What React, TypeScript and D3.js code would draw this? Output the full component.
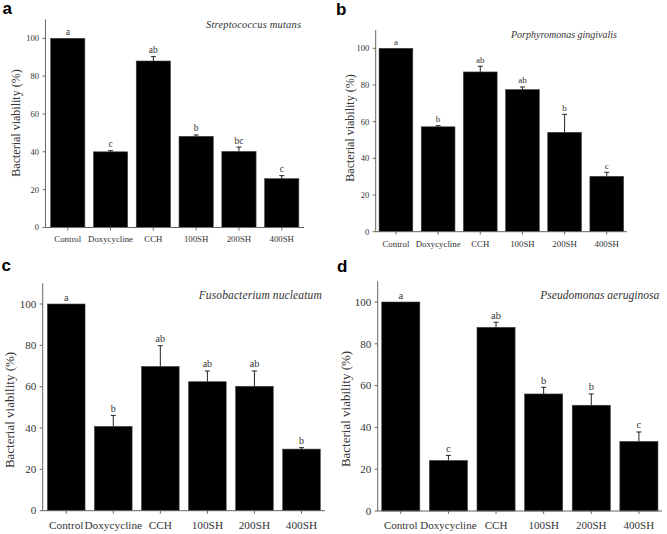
import React from "react";
import * as d3 from "d3";

const categories = ["Control", "Doxycycline", "CCH", "100SH", "200SH", "400SH"];
const yTicks = [0, 20, 40, 60, 80, 100];

const panelTags = ["a", "b", "c", "d"];
const speciesNames = [
  "Streptococcus mutans",
  "Porphyromonas gingivalis",
  "Fusobacterium nucleatum",
  "Pseudomonas aeruginosa",
];

const valuesA = [100, 40, 88, 48.2, 40.2, 25.8];
const errorsA = [0, 0.6, 2.3, 0.7, 2.3, 1.6];
const lettersA = ["a", "c", "ab", "b", "bc", "c"];

const valuesB = [100, 57.2, 87.1, 77.5, 54.2, 30.2];
const errorsB = [0, 0.6, 3.1, 1.4, 9.8, 2.2];
const lettersB = ["a", "b", "ab", "ab", "b", "c"];

const valuesC = [100, 40.8, 69.8, 62.4, 60.2, 29.8];
const errorsC = [0, 5.3, 10, 5.2, 7.4, 0.7];
const lettersC = ["a", "b", "ab", "ab", "ab", "b"];

const valuesD = [100, 24.2, 87.9, 56, 50.6, 33.3];
const errorsD = [0, 2.4, 2.4, 3.2, 5.4, 4.5];
const lettersD = ["a", "c", "ab", "b", "b", "c"];

const yLabel = "Bacterial viability (%)";

const layouts = [
  { left: 45.5, right: 304, po: 0.12, y0: 227.5, y100: 38.3, tickFs: 8.5, xFs: 8.8, yFs: 12, spFs: 10.5, spLen: 95, spX: 301, spY: 28, ltFs: 9.5, xLabY: 242, yLabX: 20, yLabY: 123, tagX: 2.5, tagY: 13.5 },
  { left: 375.7, right: 627, po: 0.08, y0: 231.7, y100: 48.3, tickFs: 8.5, xFs: 8.8, yFs: 12, spFs: 10, spLen: 106, spX: 617, spY: 37.5, ltFs: 9, xLabY: 246.5, yLabX: 353.5, yLabY: 128, tagX: 336, tagY: 15 },
  { left: 42.7, right: 325, po: 0.1, y0: 510.7, y100: 304, tickFs: 11, xFs: 11.3, yFs: 13, spFs: 11.5, spLen: 123, spX: 321.7, spY: 299, ltFs: 10, xLabY: 529, yLabX: 14, yLabY: 410, tagX: 1.5, tagY: 270.5 },
  { left: 377.7, right: 662, po: 0.085, y0: 511, y100: 302, tickFs: 11, xFs: 11, yFs: 13, spFs: 11.5, spLen: 119, spX: 659.3, spY: 299, ltFs: 10.5, xLabY: 529, yLabX: 350, yLabY: 409, tagX: 337, tagY: 272 },
];

const datasets = [
  { values: valuesA, errors: errorsA, letters: lettersA },
  { values: valuesB, errors: errorsB, letters: lettersB },
  { values: valuesC, errors: errorsC, letters: lettersC },
  { values: valuesD, errors: errorsD, letters: lettersD },
];

const SERIF = "'Liberation Serif', 'DejaVu Serif', serif";
const SANS = "'Liberation Sans', Arial, sans-serif";
const AXIS = "#666";
const TEXT = "#333";

function Panel({ idx }: { idx: number }) {
  const L = layouts[idx];
  const D = datasets[idx];
  const x = d3
    .scaleBand<string>()
    .domain(categories)
    .range([L.left, L.right])
    .paddingInner(0.2)
    .paddingOuter(L.po);
  const y = d3.scaleLinear().domain([0, 100]).range([L.y0, L.y100]);
  const bw = x.bandwidth();
  const capW = 5;
  return (
    <g>
      <text x={L.tagX} y={L.tagY} fontFamily={SANS} fontWeight="bold" fontSize={17} fill="#000">
        {panelTags[idx]}
      </text>
      {/* bars */}
      {categories.map((c, i) => (
        <rect
          key={c}
          x={x(c)}
          y={y(D.values[i])}
          width={bw}
          height={y(0) - y(D.values[i])}
          fill="#000"
          stroke="#444"
          strokeWidth={0.6}
        />
      ))}
      {/* error bars */}
      {categories.map((c, i) => {
        if (D.errors[i] <= 0) return null;
        const cx = (x(c) as number) + bw / 2;
        const top = y(D.values[i] + D.errors[i]);
        return (
          <g key={c + "e"} stroke="#222" strokeWidth={1}>
            <line x1={cx} x2={cx} y1={y(D.values[i])} y2={top} />
            <line x1={cx - capW / 2} x2={cx + capW / 2} y1={top} y2={top} />
          </g>
        );
      })}
      {/* significance letters */}
      {categories.map((c, i) => {
        const cx = (x(c) as number) + bw / 2;
        const top = y(D.values[i] + D.errors[i]);
        return (
          <text key={c + "l"} x={cx} y={top - 3.5} textAnchor="middle" fontFamily={SERIF} fontSize={L.ltFs} fill={TEXT}>
            {D.letters[i]}
          </text>
        );
      })}
      {/* y axis */}
      <line x1={L.left} x2={L.left} y1={y(0)} y2={y(110)} stroke={AXIS} strokeWidth={1} />
      {yTicks.map((t) => (
        <g key={t}>
          <line x1={L.left - 3} x2={L.left} y1={y(t)} y2={y(t)} stroke={AXIS} />
          <text
            x={L.left - 6.5}
            y={y(t)}
            dy="0.34em"
            textAnchor="end"
            fontFamily={SERIF}
            fontSize={L.tickFs}
            fill={TEXT}
          >
            {t}
          </text>
        </g>
      ))}
      {/* x axis */}
      <line x1={L.left} x2={L.right} y1={y(0)} y2={y(0)} stroke={AXIS} strokeWidth={1} />
      {categories.map((c) => {
        const cx = (x(c) as number) + bw / 2;
        return (
          <g key={c + "t"}>
            <line x1={cx} x2={cx} y1={y(0)} y2={y(0) + 3} stroke={AXIS} />
            <text x={cx} y={L.xLabY} textAnchor="middle" fontFamily={SERIF} fontSize={L.xFs} fill={TEXT}>
              {c}
            </text>
          </g>
        );
      })}
      {/* y label */}
      <text
        transform={`translate(${L.yLabX},${L.yLabY}) rotate(-90)`}
        textAnchor="middle"
        fontFamily={SERIF}
        fontSize={L.yFs}
        fill={TEXT}
      >
        {yLabel}
      </text>
      {/* species */}
      <text
        x={L.spX - L.spLen}
        y={L.spY}
        textLength={L.spLen}
        lengthAdjust="spacing"
        fontFamily={SERIF}
        fontStyle="italic"
        fontSize={L.spFs}
        fill={TEXT}
      >
        {speciesNames[idx]}
      </text>
    </g>
  );
}

export default function App() {
  return (
    <svg
      width={667}
      height={534}
      viewBox="0 0 667 534"
      style={{ position: "absolute", left: 0, top: 0, background: "#fff" }}
    >
      <rect width={667} height={534} fill="#fff" />
      {[0, 1, 2, 3].map((i) => (
        <Panel key={i} idx={i} />
      ))}
    </svg>
  );
}
